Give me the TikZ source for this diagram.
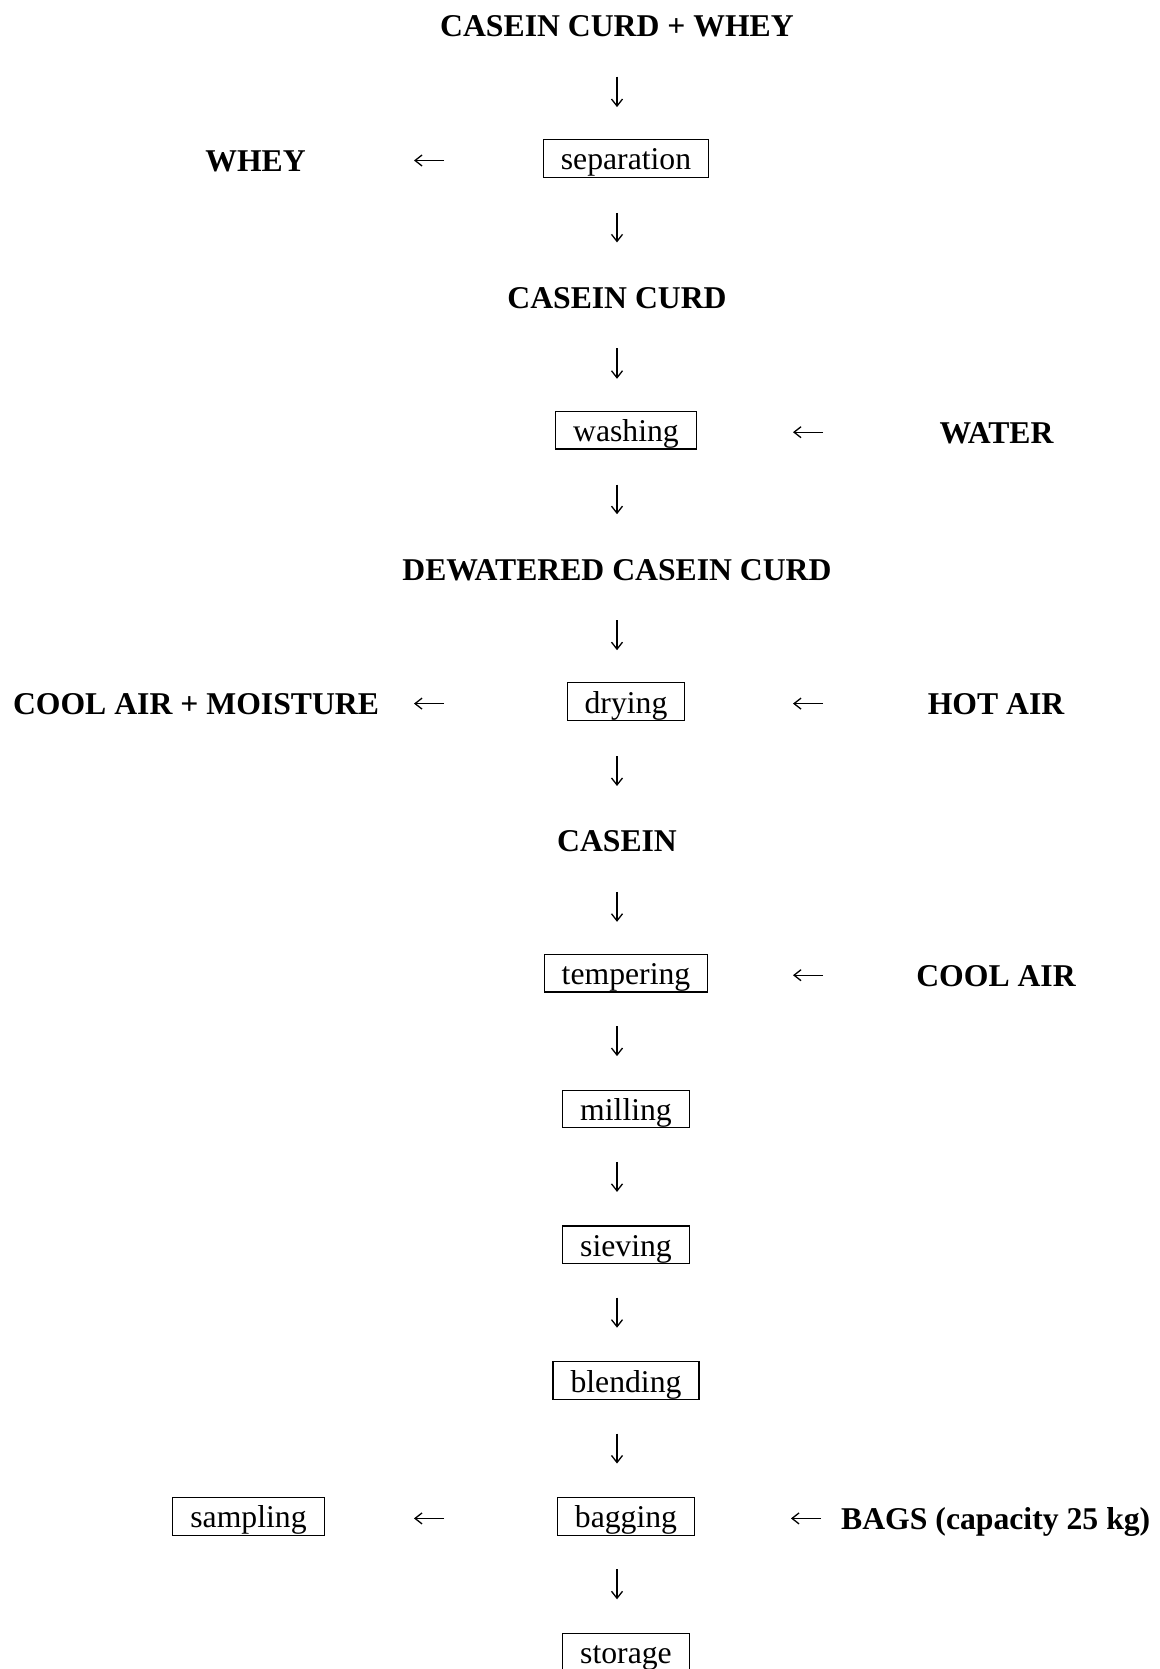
\documentclass[tikz,border=0pt]{standalone}
\usepackage{fontspec}
\setmainfont{Liberation Serif}
\usetikzlibrary{arrows.meta}
\begin{document}
\begin{tikzpicture}[x=1pt,y=-1pt,
  txt/.style={font=\fontsize{31.7}{38}\selectfont, text height=27.5pt, text depth=4.5pt, inner xsep=17.5pt, inner ysep=2.75pt, minimum height=37.5pt},
  lab/.style={txt, font=\fontsize{31.7}{38}\selectfont\bfseries, inner xsep=0pt},
  stepbox/.style={txt, draw, line width=1.2pt},
  conn/.style={line width=1.3pt, -{Straight Barb[length=7pt,width=11pt,line width=1.3pt]}},
  darr/.style={conn, shorten <=#1, shorten >=#1},
]
\useasboundingbox (0,0) rectangle (1159,1669);
\fill[white] (0,0) rectangle (1159,1669);
\coordinate (ax) at (617,0);
% main column
\node[lab] (top) at (617,25.2) {CASEIN CURD + WHEY};
\node[stepbox] (sep) at (626,158.5) {separation};
\node[lab] (curd) at (617,296.8) {CASEIN CURD};
\node[stepbox] (wash) at (626,430.2) {washing};
\node[lab] (dew) at (617,568.6) {DEWATERED CASEIN CURD};
\node[stepbox] (dry) at (626,701.6) {drying};
\node[lab] (cas) at (617,840.4) {CASEIN};
\node[stepbox] (temp) at (626,973.2) {tempering};
\node[stepbox] (mill) at (626,1109) {milling};
\node[stepbox] (sieve) at (626,1244.8) {sieving};
\node[stepbox] (blend) at (626,1380.6) {blending};
\node[stepbox] (bag) at (626,1516.4) {bagging};
\node[stepbox] (stor) at (626,1652.2) {storage};
% side items
\node[lab] (whey) at (255.5,160) {WHEY};
\node[lab] (water) at (996.5,431.8) {WATER};
\node[lab] (moist) at (196,703.2) {COOL AIR + MOISTURE};
\node[lab] (hot) at (996,703.2) {HOT AIR};
\node[lab] (cool) at (996,974.8) {COOL AIR};
\node[stepbox] (samp) at (248.5,1516.4) {sampling};
\node[lab, anchor=west] (bags) at (841,1518) {BAGS (capacity 25 kg)};
% vertical connectors
\draw[darr=51.4pt] (top -| ax) -- (sep -| ax);
\draw[darr=54.4pt] (sep -| ax) -- (curd -| ax);
\draw[darr=51.4pt] (curd -| ax) -- (wash -| ax);
\draw[darr=54.4pt] (wash -| ax) -- (dew -| ax);
\draw[darr=51.4pt] (dew -| ax) -- (dry -| ax);
\draw[darr=54.4pt] (dry -| ax) -- (cas -| ax);
\draw[darr=51.4pt] (cas -| ax) -- (temp -| ax);
\draw[darr=52.9pt] (temp -| ax) -- (mill -| ax);
\draw[darr=52.9pt] (mill -| ax) -- (sieve -| ax);
\draw[darr=52.9pt] (sieve -| ax) -- (blend -| ax);
\draw[darr=52.9pt] (blend -| ax) -- (bag -| ax);
\draw[darr=52.9pt] (bag -| ax) -- (stor -| ax);
% horizontal connectors
\draw[conn, shorten <=182pt, shorten >=158.5pt] ([yshift=-2pt]sep.center) -- ([yshift=-2pt]whey |- sep);
\draw[conn, shorten <=173.5pt, shorten >=167pt] ([yshift=-2pt]water |- wash) -- ([yshift=-2pt]wash.center);
\draw[conn, shorten <=182pt, shorten >=218pt] ([yshift=-2pt]dry.center) -- ([yshift=-2pt]moist |- dry);
\draw[conn, shorten <=173pt, shorten >=167pt] ([yshift=-2pt]hot |- dry) -- ([yshift=-2pt]dry.center);
\draw[conn, shorten <=173pt, shorten >=167pt] ([yshift=-2pt]cool |- temp) -- ([yshift=-2pt]temp.center);
\draw[conn, shorten <=182pt, shorten >=165.5pt] ([yshift=-2pt]bag.center) -- ([yshift=-2pt]samp.center);
\draw[conn, shorten <=20pt, shorten >=165pt] ([yshift=-2pt]bags.west |- bag) -- ([yshift=-2pt]bag.center);
\end{tikzpicture}
\end{document}
